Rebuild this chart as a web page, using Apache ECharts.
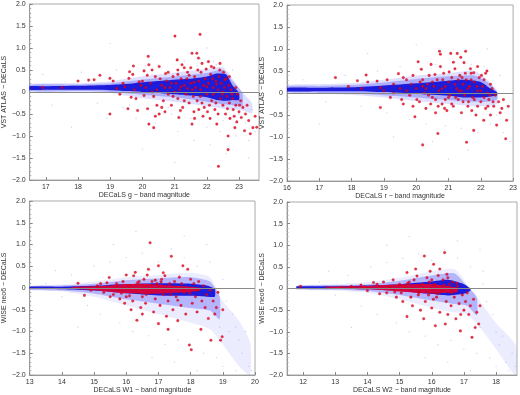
<!DOCTYPE html>
<html><head><meta charset="utf-8">
<script src="https://cdn.jsdelivr.net/npm/echarts@6/dist/echarts.min.js"></script>
<style>html,body{margin:0;padding:0;background:#fff}#c{width:520px;height:395px}</style>
</head><body><div id="c"></div>
<script>
// ---------- tick labels ----------
const yTicksLabelFmt = v => v === 0 ? '0' : v.toFixed(1).replace('-', '\u2212');
const ticksA = [17,18,19,20,21,22,23];
const ticksB = [16,17,18,19,20,21,22,23];
const ticksC = [13,14,15,16,17,18,19,20];
const ticksD = [12,13,14,15,16,17,18];
const xNames = ['DECaLS g \u2212 band magnitude','DECaLS r \u2212 band magnitude','DECaLS W1 \u2212 band magnitude','DECaLS W2 \u2212 band magnitude'];
const yNames = ['VST ATLAS \u2212 DECaLS','VST ATLAS \u2212 DECaLS','WISE neo6 \u2212 DECaLS','WISE neo6 \u2212 DECaLS'];

// ---------- panel A (g band) ----------
const coreA = [[16.5,0.05,0.13],[17,0.05,0.13],[18,0.05,0.14],[19,0.04,0.16],[19.5,0.02,0.18],[20,0.0,0.22],[20.5,-0.02,0.25],[21,-0.05,0.28],[21.5,-0.08,0.3],[22,-0.12,0.35],[22.3,-0.18,0.42],[22.6,-0.2,0.4],[22.8,-0.18,0.15],[23.0,-0.18,-0.02]];
const innerA = [[16.5,0.02,0.16],[18,0.02,0.17],[19,0.0,0.2],[20,-0.06,0.28],[21,-0.12,0.35],[22,-0.22,0.43],[22.5,-0.28,0.5],[22.8,-0.3,0.25],[23.1,-0.3,-0.02]];
const haloA = [[16.5,0.0,0.18],[18,0.0,0.2],[19,-0.02,0.24],[19.5,-0.08,0.3],[20,-0.14,0.36],[21,-0.22,0.44],[22,-0.32,0.52],[22.5,-0.38,0.56],[22.8,-0.4,0.3],[23.1,-0.42,0.0],[23.4,-0.48,-0.25]];
const faintA = [[17.2,-0.3],[18.1,0.45],[18.6,-0.25],[19.2,0.5],[19.4,-0.35],[19.8,-0.6],[20.1,0.6],[20.4,-0.7],[20.6,0.55],[20.9,-0.5],[21.1,-0.9],[21.3,0.7],[21.5,-0.6],[21.6,-1.1],[21.8,0.75],[22.0,-0.8],[22.1,-1.2],[22.2,0.7],[22.4,-0.9],[22.6,-1.4],[22.7,-0.6],[22.9,-1.0],[23.0,-0.5],[23.2,-0.7],[23.3,-1.1],[23.4,-0.4],[23.5,-0.9],[20.3,0.4],[21.7,0.6],[22.3,0.62],[22.8,0.5],[19.6,-0.3],[20.8,-0.35],[21.2,-0.45],[21.9,-0.55],[22.5,-0.65],[23.1,-0.3],[18.9,-0.6],[17.8,-0.8],[16.9,0.4],[20.0,-1.3],[21.0,-1.6],[22.0,1.0],[19.0,1.1],[23.3,-1.5]];
const redA = [[18.33,0.27],[18.5,0.28],[18.68,0.38],[18.99,0.31],[19.09,0.25],[18.99,-0.5],[19.3,-0.05],[19.45,0.12],[19.58,0.31],[19.6,0.46],[19.72,0.59],[19.9,0.23],[19.65,-0.12],[19.85,-0.42],[19.55,-0.38],[19.75,0.05],[19.8,-0.15],[19.95,0.15],[20.05,-0.08],[20.18,0.81],[20.2,0.62],[20.3,0.5],[20.16,-0.38],[20.2,-0.73],[20.35,-0.81],[20.1,0.1],[20.25,0.2],[20.35,-0.1],[20.4,0.35],[20.45,0.05],[20.52,0.58],[20.52,-0.5],[20.6,0.15],[20.65,-0.2],[20.72,0.42],[20.75,0.25],[20.8,-0.05],[20.85,0.1],[20.9,-0.3],[20.95,0.35],[21.01,1.27],[21.08,0.73],[21.05,0.2],[21.1,-0.15],[21.13,-0.58],[21.15,0.05],[21.2,0.3],[21.23,0.62],[21.25,-0.35],[21.3,0.15],[21.35,-0.05],[21.4,0.45],[21.45,-0.25],[21.5,0.2],[21.54,0.88],[21.54,-0.73],[21.55,0.05],[21.6,-0.45],[21.62,0.35],[21.65,0.1],[21.69,0.88],[21.7,-0.2],[21.74,0.77],[21.75,0.25],[21.79,1.31],[21.8,-0.1],[21.82,0.45],[21.85,0.65],[21.88,-0.55],[21.9,0.15],[21.92,-0.35],[21.95,0.3],[22.0,-0.05],[22.05,0.69],[22.05,0.2],[22.1,-0.6],[22.12,0.4],[22.15,-0.2],[22.2,0.1],[22.22,0.55],[22.25,-0.4],[22.28,0.25],[22.31,-0.73],[22.35,0.05],[22.36,-1.69],[22.38,0.35],[22.41,0.65],[22.42,-0.15],[22.45,0.2],[22.5,-0.3],[22.52,0.45],[22.55,0.1],[22.58,-0.5],[22.6,0.3],[22.62,-0.1],[22.66,-1.0],[22.66,-1.31],[22.68,0.15],[22.7,-0.25],[22.72,-0.6],[22.75,0.05],[22.8,-0.15],[22.82,-0.4],[22.87,-0.81],[22.9,-0.3],[22.95,-0.05],[23.0,-0.45],[23.05,-0.2],[23.07,-0.58],[23.12,-0.35],[23.17,-0.88],[23.2,-0.5],[23.25,-0.3],[23.3,-0.65],[23.43,-0.81],[23.5,-0.55],[23.55,-0.8],[20.0,0.25],[20.3,0.0],[20.7,0.1],[21.0,0.0],[21.2,0.12],[21.4,0.08],[21.6,0.22],[21.8,0.05],[22.0,0.12],[22.2,-0.05],[22.3,0.18],[22.5,0.0],[22.7,0.35],[21.3,-0.2],[20.9,0.2],[20.55,0.3],[19.4,0.2],[20.8,0.45],[21.1,0.5],[21.5,0.55],[22.35,-0.5],[21.75,-0.4],[20.45,-0.3],[22.9,0.1],[23.35,-0.95],[18.0,0.25],[17.5,0.1],[16.9,0.1],[19.2,0.08],[20.15,0.38],[20.6,-0.35],[20.95,-0.1],[21.18,-0.42],[21.38,0.3],[21.58,-0.1],[21.72,0.5],[21.85,-0.25],[21.98,0.52],[22.08,-0.3],[22.18,0.3],[22.28,-0.25],[22.4,0.5],[22.48,-0.05],[22.56,0.28],[22.64,-0.38],[22.78,-0.05],[22.85,-0.55],[22.93,-0.68],[23.02,-0.3],[21.1,0.4],[21.3,0.55],[20.7,-0.45],[20.4,-0.55],[19.7,0.4],[20.05,0.48],[21.62,-0.6],[22.02,-0.45],[22.14,0.58],[21.45,0.38]];

// ---------- panel B (r band) ----------
const coreB = [[16,0.04,0.12],[17,0.04,0.12],[18,0.04,0.13],[19,0.02,0.17],[20,-0.02,0.22],[21,-0.06,0.28],[21.5,-0.1,0.3],[22,-0.1,0.25],[22.3,-0.08,0.1],[22.5,-0.05,0.02]];
const innerB = [[16,0.02,0.15],[17,0.0,0.16],[18,-0.01,0.18],[19,-0.05,0.24],[20,-0.1,0.32],[21,-0.16,0.38],[21.8,-0.2,0.4],[22.2,-0.2,0.25],[22.5,-0.15,0.03]];
const haloB = [[16,0.0,0.18],[17,-0.02,0.2],[18,-0.04,0.22],[19,-0.1,0.3],[20,-0.18,0.4],[21,-0.25,0.45],[21.8,-0.3,0.5],[22.2,-0.3,0.3],[22.5,-0.25,0.05]];
const faintB = [[16.5,0.3],[17.2,-0.2],[17.8,0.4],[18.3,-0.3],[18.8,0.5],[19.1,-0.45],[19.5,0.6],[19.8,-0.6],[20.1,0.55],[20.3,-0.7],[20.6,0.65],[20.9,-0.75],[21.2,0.7],[21.4,-0.8],[21.7,0.65],[21.9,-0.9],[22.1,0.6],[22.3,-0.7],[22.5,-0.5],[22.7,-0.9],[22.9,-1.1],[22.6,0.4],[20.5,-1.1],[19.3,-1.0],[21.6,-1.3],[18.5,0.9],[17.0,-0.7],[22.2,1.0],[20.0,1.1],[21.0,-1.5]];
const redB = [[17.5,0.35],[18.18,0.28],[18.45,0.41],[18.5,0.25],[18.79,0.27],[18.9,0.12],[18.89,-0.33],[19.1,0.3],[19.2,-0.1],[19.3,0.2],[19.45,0.44],[19.5,0.1],[19.55,-0.15],[19.7,0.3],[19.8,-0.05],[19.85,0.2],[19.9,-0.3],[19.96,-0.54],[20.0,0.1],[20.06,0.71],[20.1,-0.2],[20.16,0.54],[20.2,-1.18],[20.2,0.3],[20.25,0.0],[20.3,-0.35],[20.35,0.2],[20.4,0.4],[20.46,0.65],[20.5,-0.1],[20.55,0.15],[20.6,-0.45],[20.65,0.3],[20.67,-0.92],[20.7,0.05],[20.72,0.95],[20.75,0.88],[20.8,-0.25],[20.85,0.45],[20.9,0.15],[20.95,-0.4],[21.0,0.25],[21.05,-0.05],[21.07,0.9],[21.1,0.35],[21.15,-0.3],[21.2,0.55],[21.25,0.1],[21.27,0.9],[21.3,-0.15],[21.35,0.4],[21.38,0.81],[21.4,-0.45],[21.45,0.2],[21.48,0.69],[21.5,-0.05],[21.53,0.95],[21.55,0.3],[21.56,-1.12],[21.6,-0.3],[21.65,0.15],[21.7,0.45],[21.75,-0.1],[21.78,0.46],[21.78,-0.85],[21.8,0.25],[21.85,-0.5],[21.9,0.05],[21.95,0.35],[22.0,-0.2],[22.05,0.15],[22.09,-0.62],[22.1,0.3],[22.15,-0.35],[22.19,0.5],[22.2,0.0],[22.25,-0.15],[22.3,-0.5],[22.35,0.1],[22.4,-0.3],[22.45,-0.05],[22.49,-0.73],[22.55,-0.2],[22.6,-0.45],[22.65,-0.35],[22.7,-0.15],[22.77,-1.04],[22.8,-0.62],[22.85,-0.3],[20.3,0.1],[20.5,0.25],[20.8,0.1],[21.0,-0.1],[21.2,0.2],[21.4,0.05],[21.6,0.1],[21.8,-0.15],[22.0,0.05],[20.9,-0.15],[20.2,0.15],[19.7,0.05],[19.3,0.0],[21.3,0.3],[21.7,0.3],[22.1,-0.1],[20.6,-0.15],[21.1,-0.25],[21.9,-0.3],[22.3,0.2],[19.0,0.05],[18.3,0.1],[17.9,0.15],[19.6,0.35],[20.45,-0.25],[21.45,-0.2],[22.15,0.45],[20.75,0.6],[21.15,0.7],[21.9,0.6],[20.12,0.25],[20.38,-0.05],[20.58,0.42],[20.88,-0.35],[21.02,0.48],[21.22,-0.1],[21.42,0.35],[21.62,-0.2],[21.68,0.55],[21.88,0.15],[22.02,0.4],[22.22,-0.3],[22.38,-0.2],[20.82,0.3],[21.32,0.05],[21.52,0.45],[19.9,0.4],[19.6,-0.25],[20.02,-0.15],[21.72,-0.4],[22.28,-0.05],[20.68,-0.3]];

// ---------- panel C (W1) ----------
const coreC = [[13,-0.02,0.03],[14,-0.03,0.03],[15,-0.06,0.05],[16,-0.12,0.09],[17,-0.17,0.11],[18,-0.18,0.1],[18.5,-0.2,0.06],[18.75,-0.2,-0.02]];
const redCoreC = [[14.3,-0.02,0.02],[15,-0.05,0.04],[15.5,-0.09,0.06],[16,-0.12,0.09],[16.5,-0.13,0.1],[17,-0.13,0.08],[17.5,-0.11,0.05],[18,-0.09,0.03],[18.3,-0.06,0.0]];
const innerC = [[13,-0.04,0.04],[14,-0.06,0.06],[15,-0.13,0.1],[16,-0.26,0.18],[17,-0.36,0.22],[18,-0.46,0.25],[18.6,-0.52,0.15],[18.9,-0.72,-0.2]];
const haloC = [[13,-0.05,0.05],[14,-0.08,0.08],[15,-0.2,0.15],[16,-0.4,0.25],[17,-0.6,0.3],[18,-0.8,0.35],[18.6,-0.95,0.25],[19,-1.3,-0.3],[19.5,-1.8,-0.75],[19.85,-2.0,-1.25]];
const faintC = [[13.5,0.1],[14.0,-0.2],[14.3,0.3],[14.8,-0.4],[15.0,0.5],[15.2,-0.6],[15.5,0.6],[15.8,-0.8],[16.0,0.7],[16.2,-1.0],[16.5,0.8],[16.7,-1.1],[17.0,0.6],[17.2,-1.3],[17.4,0.9],[17.6,-1.2],[17.8,0.7],[18.0,-1.4],[18.2,0.5],[18.4,-1.5],[18.6,0.6],[18.8,-1.6],[19.0,-1.8],[19.2,-1.0],[19.4,-1.9],[19.6,-1.5],[19.8,-1.8],[19.3,-0.6],[19.5,-1.2],[19.7,-1.0],[19.9,-1.9],[15.6,1.0],[16.3,1.3],[17.8,1.2],[18.5,1.0],[14.5,-0.9],[13.8,0.4],[16.8,-1.6],[17.5,-1.7],[18.2,-1.9],[19.1,-0.3],[19.0,0.2],[18.9,-0.9],[19.4,-0.9]];
const redC = [[14.5,0.11],[14.7,-0.17],[14.9,-0.05],[15.1,0.05],[15.3,-0.1],[15.47,0.24],[15.6,-0.15],[15.7,0.1],[15.8,-0.25],[15.9,0.15],[16.0,-0.2],[16.1,0.05],[16.2,-0.3],[16.23,0.28],[16.28,0.36],[16.3,-0.1],[16.33,-0.74],[16.4,0.15],[16.45,-0.45],[16.5,-0.2],[16.55,0.2],[16.6,-0.35],[16.69,0.43],[16.74,1.04],[16.75,-0.1],[16.8,0.15],[16.85,-0.55],[16.9,-0.25],[16.95,0.1],[17.0,0.51],[17.0,-0.82],[17.05,-0.4],[17.1,0.2],[17.15,-0.15],[17.2,0.28],[17.25,-0.65],[17.3,-0.3],[17.35,0.1],[17.4,0.73],[17.45,-0.5],[17.5,0.15],[17.55,-0.2],[17.6,-0.75],[17.65,0.25],[17.7,-0.4],[17.76,0.51],[17.8,-0.1],[17.85,-0.6],[17.91,0.43],[17.96,-1.31],[18.0,0.2],[18.02,-1.42],[18.05,-0.35],[18.1,0.1],[18.15,-0.2],[18.2,-0.55],[18.25,0.15],[18.32,-0.95],[18.35,-0.3],[18.4,0.05],[18.45,-0.45],[18.5,-0.15],[18.55,-0.7],[18.63,-1.2],[18.6,-0.05],[18.7,-0.3],[18.75,-0.6],[18.8,-0.45],[18.85,-0.1],[18.93,-1.2],[18.98,-1.12],[19.0,-0.5],[16.0,0.3],[15.95,-0.35],[16.65,0.3],[17.15,0.35],[17.3,-0.95],[16.5,-0.6],[16.15,-0.5],[15.5,-0.2],[15.2,0.1],[15.4,0.12],[15.85,-0.12],[16.35,0.12],[16.62,-0.15],[17.08,0.14],[17.38,-0.15],[17.72,0.1],[17.98,-0.12],[18.2,-0.05],[16.1,-0.18],[16.9,0.18],[17.6,-0.28]];

// ---------- panel D (W2) ----------
const coreD = [[11.8,0.0,0.05],[13,0.0,0.05],[14,-0.02,0.07],[15,-0.06,0.1],[16,-0.13,0.16],[16.5,-0.16,0.2],[17,-0.12,0.1],[17.2,-0.05,0.0]];
const redCoreD = [[12.8,0.0,0.04],[14,-0.02,0.06],[14.5,-0.04,0.08],[15,-0.07,0.1],[15.5,-0.1,0.1],[16,-0.12,0.1],[16.5,-0.1,0.06],[16.8,-0.08,0.02]];
const innerD = [[11.8,-0.02,0.06],[13,-0.03,0.08],[14,-0.06,0.1],[15,-0.15,0.18],[16,-0.28,0.3],[16.7,-0.36,0.35],[17.1,-0.4,0.05],[17.4,-0.62,-0.2]];
const haloD = [[11.8,-0.03,0.07],[13,-0.05,0.1],[14,-0.1,0.15],[15,-0.25,0.25],[16,-0.45,0.4],[16.7,-0.55,0.45],[17.1,-0.6,0.1],[17.5,-0.9,-0.3],[18,-1.4,-0.8],[18.6,-2.0,-1.3]];
const faintD = [[12.5,0.15],[13.0,-0.15],[13.4,0.3],[13.8,-0.4],[14.1,0.5],[14.3,-0.6],[14.6,0.6],[14.9,-0.8],[15.1,0.7],[15.3,-1.0],[15.6,0.8],[15.8,-1.1],[16.0,0.65],[16.2,-1.3],[16.4,0.9],[16.6,-1.2],[16.8,0.7],[17.0,-1.4],[17.2,0.5],[17.4,-1.5],[17.6,0.4],[17.8,-1.6],[18.0,-1.8],[18.2,-1.1],[18.4,-1.9],[18.5,-1.5],[18.3,-1.7],[17.9,-0.6],[18.1,-1.3],[18.6,-1.8],[14.6,1.0],[15.3,1.2],[16.8,1.1],[17.5,0.9],[13.5,-0.9],[12.8,0.4],[15.8,-1.6],[16.5,-1.7],[17.2,-1.9],[17.7,-0.3],[17.6,0.1],[17.5,-0.9],[18.0,-1.0]];
const redD = [[11.92,0.05],[12.74,0.02],[13.2,0.03],[13.5,0.05],[13.8,0.08],[14.0,-0.05],[14.19,0.14],[14.38,-0.12],[14.5,0.15],[14.6,-0.1],[14.8,0.2],[14.9,-0.2],[15.0,0.1],[15.1,-0.3],[15.23,0.37],[15.23,-0.65],[15.3,0.15],[15.35,-0.2],[15.4,-0.4],[15.45,0.2],[15.54,0.29],[15.6,-0.1],[15.65,-0.5],[15.7,0.1],[15.77,0.75],[15.8,-0.3],[15.85,0.25],[15.9,-0.15],[15.95,0.4],[16.0,-0.45],[16.06,0.56],[16.1,0.1],[16.11,-0.86],[16.15,-0.2],[16.2,0.3],[16.25,-0.55],[16.3,-0.05],[16.35,0.2],[16.4,0.83],[16.42,-0.82],[16.45,-0.3],[16.47,0.33],[16.5,-0.6],[16.55,0.1],[16.6,-0.4],[16.65,0.15],[16.7,-0.2],[16.75,-0.7],[16.8,0.05],[16.85,-0.35],[16.89,-0.98],[16.95,-0.15],[17.0,-0.5],[17.05,-0.3],[17.1,-0.1],[17.15,-0.6],[17.25,-1.13],[17.2,-0.4],[17.35,-0.9],[17.3,-0.25],[17.4,-0.55],[17.46,-0.82],[17.5,-0.4],[15.5,0.45],[16.25,0.45],[14.7,0.05],[15.15,0.05],[16.0,0.2],[16.5,0.25],[15.75,-0.7],[16.9,-0.6],[14.3,0.1],[14.85,-0.08],[15.25,0.12],[15.58,-0.15],[15.92,0.15],[16.18,-0.12],[16.38,0.08],[16.62,-0.1],[16.78,0.12],[15.05,-0.1],[13.9,0.04],[16.05,-0.25]];

// ---------- layout / styling ----------
const grids = [
  {left:26, top:4, width:233, height:176},
  {left:287, top:5, width:230, height:176},
  {left:26, top:201, width:229, height:177},
  {left:287, top:202, width:230, height:176}
];
const xRanges = [[16.5,23.62],[16,23],[13,20],[11.5,18.65]];
const xTicks = [ticksA, ticksB, ticksC, ticksD];
const panels = [
  {core:coreA, inner:innerA, halo:haloA, faint:faintA, red:redA, redCore:null, haloAlpha:0.22},
  {core:coreB, inner:innerB, halo:haloB, faint:faintB, red:redB, redCore:null, haloAlpha:0.22},
  {core:coreC, inner:innerC, halo:haloC, faint:faintC, red:redC, redCore:redCoreC, haloAlpha:0.13},
  {core:coreD, inner:innerD, halo:haloD, faint:faintD, red:redD, redCore:redCoreD, haloAlpha:0.13}
];
const FONT = 'Liberation Sans';
const txt = {fontFamily: FONT, fontSize: 7, color: '#333'};

function band(rows, color) {
  return function (params, api) {
    if (params.dataIndex !== 0) return null;
    const up = rows.map(r => api.coord([r[0], r[2]]));
    const lo = rows.slice().reverse().map(r => api.coord([r[0], r[1]]));
    return {type: 'polygon', shape: {points: up.concat(lo), smooth: 0.2}, style: {fill: color}};
  };
}

const option = {animation:false, backgroundColor:'#fff', grid:[], xAxis:[], yAxis:[], series:[]};
grids.forEach((g, i) => {
  option.grid.push(Object.assign({show:true, borderColor:'#aaa', borderWidth:1, backgroundColor:'transparent'}, g));
  option.xAxis.push({
    type:'value', gridIndex:i, min:xRanges[i][0], max:xRanges[i][1],
    name:xNames[i], nameLocation:'middle', nameGap:12,
    nameTextStyle:{fontFamily:FONT, fontSize:7, color:'#333'},
    axisLine:{show:true, onZero:false, lineStyle:{color:'#999', width:1}},
    axisTick:{show:true, inside:true, length:3, customValues:xTicks[i], lineStyle:{color:'#888'}},
    axisLabel:Object.assign({customValues:xTicks[i], margin:4}, txt),
    splitLine:{show:false}
  });
  option.yAxis.push({
    type:'value', gridIndex:i, min:-2, max:2, interval:0.5,
    name:yNames[i], nameLocation:'middle', nameGap:19,
    nameTextStyle:{fontFamily:FONT, fontSize:7, color:'#333'},
    axisLine:{show:true, lineStyle:{color:'#999', width:1}},
    axisTick:{show:true, inside:true, length:3, lineStyle:{color:'#888'}},
    minorTick:{show:true, splitNumber:5, length:1.5, lineStyle:{color:'#aaa'}},
    axisLabel:Object.assign({formatter:yTicksLabelFmt, margin:4}, txt),
    splitLine:{show:false}
  });
  const p = panels[i];
  option.series.push({type:'custom', xAxisIndex:i, yAxisIndex:i, clip:true, silent:true,
    data:p.halo, encode:{x:0, y:1}, renderItem:band(p.halo, 'rgba(110,110,255,' + p.haloAlpha + ')')});
  option.series.push({type:'scatter', xAxisIndex:i, yAxisIndex:i, silent:true,
    data:p.faint, symbol:'circle', symbolSize:1.3, itemStyle:{color:'rgba(110,110,255,0.45)'},
    markLine:{silent:true, symbol:'none', label:{show:false},
      lineStyle:{color:'#8a8a8a', width:1.2, type:'solid'}, data:[{yAxis:0}]}});
  option.series.push({type:'custom', xAxisIndex:i, yAxisIndex:i, clip:true, silent:true,
    data:p.inner, encode:{x:0, y:1}, renderItem:band(p.inner, 'rgba(80,80,250,0.35)')});
  option.series.push({type:'custom', xAxisIndex:i, yAxisIndex:i, clip:true, silent:true,
    data:p.core, encode:{x:0, y:1}, renderItem:band(p.core, 'rgba(15,15,215,0.92)')});
  if (p.redCore) {
    option.series.push({type:'custom', xAxisIndex:i, yAxisIndex:i, clip:true, silent:true,
      data:p.redCore, encode:{x:0, y:1}, renderItem:band(p.redCore, 'rgba(235,0,40,0.88)')});
  }
  option.series.push({type:'scatter', xAxisIndex:i, yAxisIndex:i, silent:true,
    data:p.red, symbol:'circle', symbolSize:2.6,
    itemStyle:{color:'#e8001c', borderColor:'#b00014', borderWidth:0.3}});
});

const chart = echarts.init(document.getElementById('c'), null, {renderer:'canvas'});
chart.setOption(option);
</script></body></html>
